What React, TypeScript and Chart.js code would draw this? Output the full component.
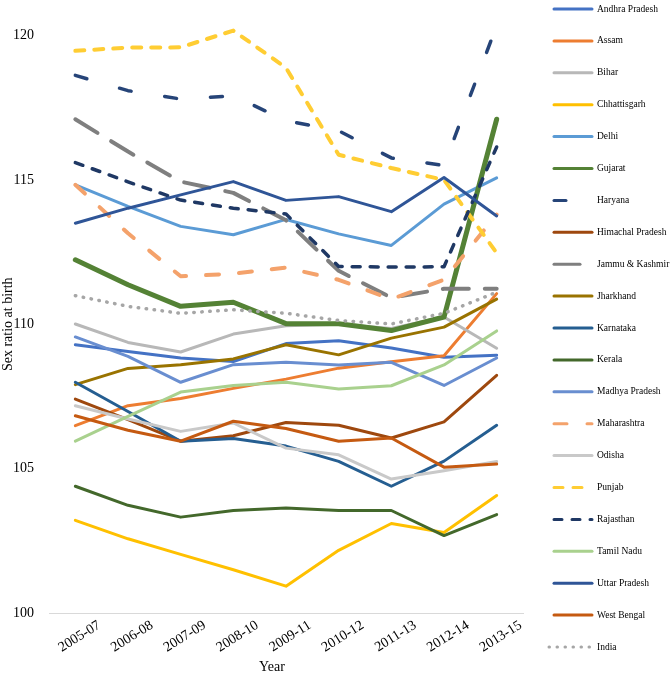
import React, { useEffect, useRef } from "react";
import { Chart, registerables } from "chart.js";

Chart.register(...registerables);

// ---- data (male births per 100 female births) ----
const years = ["2005-07", "2006-08", "2007-09", "2008-10", "2009-11", "2010-12", "2011-13", "2012-14", "2013-15"];
const yTicks = [100, 105, 110, 115, 120];

const andhraPradesh = [109.29, 109.06, 108.83, 108.71, 109.33, 109.43, 109.18, 108.86, 108.93];
const assam = [106.49, 107.18, 107.43, 107.78, 108.1, 108.48, 108.7, 108.91, 111.06];
const bihar = [110.01, 109.37, 109.04, 109.66, 109.95, 110.0, 109.85, 110.25, 109.17];
const chhattisgarh = [103.21, 102.57, 102.03, 101.5, 100.93, 102.17, 103.1, 102.79, 104.07];
const delhi = [114.83, 114.08, 113.39, 113.1, 113.63, 113.13, 112.73, 114.16, 115.07];
const gujarat = [112.23, 111.37, 110.62, 110.76, 110.02, 110.02, 109.78, 110.25, 117.1];
const haryana = [118.62, 118.09, 117.8, 117.91, 117.05, 116.7, 115.76, 115.5, 120.34];
const himachalPradesh = [107.41, 106.7, 105.95, 106.14, 106.6, 106.5, 106.06, 106.62, 108.23];
const jammuKashmir = [117.1, 115.98, 114.94, 114.55, 113.6, 111.85, 110.92, 111.23, 111.23];
const jharkhand = [107.91, 108.47, 108.6, 108.8, 109.29, 108.94, 109.52, 109.9, 110.87];
const karnataka = [107.99, 106.98, 105.95, 106.04, 105.78, 105.25, 104.39, 105.26, 106.5];
const kerala = [104.39, 103.73, 103.32, 103.55, 103.64, 103.55, 103.55, 102.68, 103.41];
const madhyaPradesh = [109.56, 108.89, 107.99, 108.6, 108.68, 108.59, 108.68, 107.88, 108.83];
const maharashtra = [114.83, 113.15, 111.66, 111.75, 111.96, 111.54, 110.87, 111.54, 113.8];
const odisha = [107.18, 106.72, 106.29, 106.58, 105.71, 105.48, 104.64, 104.93, 105.25];
const punjab = [119.47, 119.58, 119.59, 120.17, 118.88, 115.87, 115.41, 115.0, 112.47];
const rajasthan = [115.6, 114.93, 114.3, 114.02, 113.82, 112.0, 111.98, 111.99, 116.14];
const tamilNadu = [105.95, 106.81, 107.65, 107.88, 107.99, 107.76, 107.87, 108.59, 109.77];
const uttarPradesh = [113.5, 114.02, 114.48, 114.94, 114.29, 114.42, 113.9, 115.08, 113.75];
const westBengal = [106.83, 106.33, 105.95, 106.64, 106.39, 105.95, 106.06, 105.05, 105.16];
const india = [110.99, 110.62, 110.38, 110.5, 110.38, 110.13, 110.01, 110.38, 111.11];

const seriesNames = [
  "Andhra Pradesh", "Assam", "Bihar", "Chhattisgarh", "Delhi", "Gujarat", "Haryana",
  "Himachal Pradesh", "Jammu & Kashmir", "Jharkhand", "Karnataka", "Kerala",
  "Madhya Pradesh", "Maharashtra", "Odisha", "Punjab", "Rajasthan", "Tamil Nadu",
  "Uttar Pradesh", "West Bengal", "India",
];
const seriesValues = [
  andhraPradesh, assam, bihar, chhattisgarh, delhi, gujarat, haryana,
  himachalPradesh, jammuKashmir, jharkhand, karnataka, kerala,
  madhyaPradesh, maharashtra, odisha, punjab, rajasthan, tamilNadu,
  uttarPradesh, westBengal, india,
];
const seriesColors = [
  "#4472C4", "#ED7D31", "#B8B8B8", "#FFC000", "#5B9BD5", "#548235", "#264478",
  "#9E480E", "#7F7F7F", "#997300", "#255E91", "#43682B",
  "#698ED0", "#F4A26B", "#C9C9C9", "#FFCD33", "#1F3864", "#A9D18E",
  "#2F5597", "#C55A11", "#A6A6A6",
];
const seriesDashes: number[][] = [
  [], [], [], [], [], [], [12, 34],
  [], [26, 16], [], [], [],
  [], [13, 20], [], [9, 10], [8, 10], [],
  [], [], [0.5, 7.5],
];
const seriesWidths = [
  3, 3, 3, 3, 3, 5, 3.5,
  3, 4, 3, 3, 3,
  3, 4, 3, 4, 3.5, 3,
  3, 3, 3.5,
];

const W = 670;
const H = 676;
const FONT = "'Liberation Serif', 'Times New Roman', serif";
const LEGEND_TOP = 9;
const LEGEND_STEP = 31.9;

const sideLegend = {
  id: "sideLegend",
  afterDraw(chart: any) {
    const ctx = chart.ctx;
    ctx.save();
    chart.data.datasets.forEach((ds: any, i: number) => {
      const y = LEGEND_TOP + i * LEGEND_STEP;
      ctx.beginPath();
      ctx.strokeStyle = ds.borderColor;
      ctx.lineWidth = 3;
      ctx.lineCap = "round";
      ctx.setLineDash(ds.borderDash || []);
      if (ds.label === "India") {
        ctx.moveTo(549, y);
        ctx.lineTo(590, y);
      } else {
        ctx.moveTo(554, y);
        ctx.lineTo(592, y);
      }
      ctx.stroke();
      ctx.setLineDash([]);
      ctx.fillStyle = "#000";
      ctx.font = `9.5px ${FONT}`;
      ctx.textBaseline = "middle";
      ctx.textAlign = "left";
      ctx.fillText(ds.label, 597, y);
    });
    ctx.restore();
  },
};

export default function App() {
  const ref = useRef<HTMLCanvasElement | null>(null);

  useEffect(() => {
    document.body.style.margin = "0";
    document.body.style.overflow = "hidden";
    const canvas = ref.current;
    if (!canvas) return;
    const n = seriesNames.length;
    const chart = new Chart(canvas, {
      type: "line",
      data: {
        labels: years,
        datasets: seriesNames.map((name, i) => ({
          label: name,
          data: seriesValues[i],
          borderColor: seriesColors[i],
          backgroundColor: seriesColors[i],
          borderWidth: seriesWidths[i],
          borderDash: seriesDashes[i],
          borderCapStyle: "round",
          borderJoinStyle: "round",
          pointRadius: 0,
          tension: 0,
          fill: false,
          clip: false,
          order: n - i,
        })),
      },
      options: {
        responsive: false,
        animation: false,
        devicePixelRatio: 1,
        layout: { padding: { top: 35.5, right: 147, left: 0, bottom: 0 } },
        plugins: {
          legend: { display: false },
          tooltip: { enabled: false },
        },
        scales: {
          x: {
            type: "category",
            offset: true,
            grid: { display: false },
            border: { display: true, color: "#D9D9D9", width: 1 },
            ticks: {
              font: { family: FONT, size: 14 },
              color: "#000",
              minRotation: 32,
              maxRotation: 32,
              labelOffset: 24,
              padding: -4,
              autoSkip: false,
            },
            title: {
              display: true,
              text: "Year        ",
              font: { family: FONT, size: 14 },
              color: "#000",
              padding: 0,
            },
            afterFit: (s: any) => {
              s.height = 63;
            },
          },
          y: {
            min: 100,
            max: 120,
            grid: { display: false },
            border: { display: false },
            ticks: {
              font: { family: FONT, size: 14 },
              color: "#000",
              padding: 7,
            },
            afterBuildTicks: (s: any) => {
              s.ticks = yTicks.map((v) => ({ value: v }));
            },
            title: {
              display: true,
              text: "Sex ratio at birth",
              font: { family: FONT, size: 14 },
              color: "#000",
              padding: 0,
            },
            afterFit: (s: any) => {
              s.width = 49;
            },
          },
        },
      } as any,
      plugins: [sideLegend],
    } as any);
    return () => chart.destroy();
  }, []);

  return (
    <div style={{ width: W, height: H, position: "relative" }}>
      <canvas ref={ref} width={W} height={H} style={{ display: "block", width: W, height: H }} />
    </div>
  );
}
